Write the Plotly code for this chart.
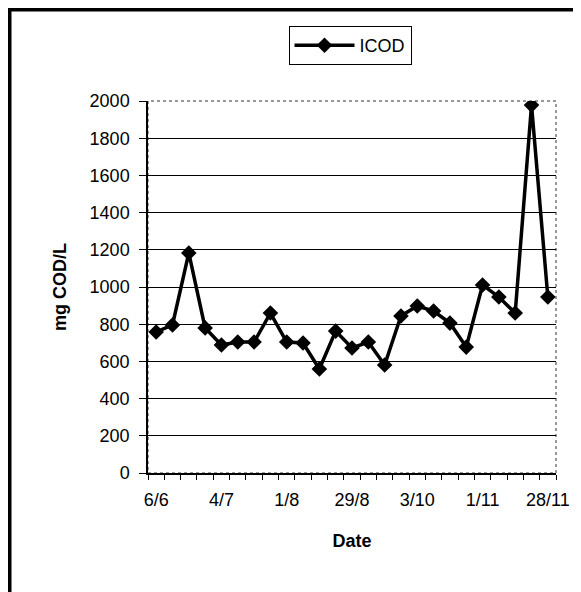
import plotly.graph_objects as go

# Data (weekly samples; labels every 4th sample)
sample_index = list(range(25))
icod = [758, 796, 1183, 780, 688, 704, 704, 860, 704, 699, 559, 763, 672,
        704, 581, 844, 898, 871, 806, 677, 1011, 946, 860, 1978, 946]
label_positions = [0, 4, 8, 12, 16, 20, 24]
label_text = ["6/6", "4/7", "1/8", "29/8", "3/10", "1/11", "28/11"]
y_ticks = [0, 200, 400, 600, 800, 1000, 1200, 1400, 1600, 1800, 2000]

# page body has an 8px margin, so the figure is drawn 8px right and down
OFF = 8
W, H = 581 - OFF, 592 - OFF
L, R, T, B = 148 - OFF, 556 - OFF, 101 - OFF, 473 - OFF
pw, ph = R - L, B - T

def px(x):
    return (x - OFF - L) / pw

def py(y):
    return (B - (y - OFF)) / ph

FONT = "Liberation Sans, Arial, sans-serif"

fig = go.Figure()
fig.add_trace(go.Scatter(
    x=sample_index, y=icod, mode="lines+markers", name="ICOD",
    line=dict(color="black", width=3.5),
    marker=dict(symbol="diamond", size=12, color="black"),
))

fig.update_layout(
    width=W, height=H,
    margin=dict(l=L, r=W - R, t=T, b=H - B),
    paper_bgcolor="white", plot_bgcolor="white",
    font=dict(family=FONT, size=18, color="black"),
    showlegend=True,
    legend=dict(
        x=px(350), y=py(26), xanchor="center", yanchor="top",
        bordercolor="black", borderwidth=1, bgcolor="white",
        font=dict(family=FONT, size=18, color="black"),
        itemwidth=60,
    ),
    xaxis=dict(
        range=[-0.5, 24.5],
        tickvals=label_positions, ticktext=label_text,
        ticks="", showgrid=False, zeroline=False,
        showline=True, linecolor="black", linewidth=1.5,
        tickfont=dict(family=FONT, size=18, color="black"),
        ticklabelstandoff=10,
        minor=dict(tick0=-0.5, dtick=1, ticks="outside", ticklen=5,
                   tickcolor="black", tickwidth=1, showgrid=False),
        title=dict(text="<b>Date</b>", font=dict(family=FONT, size=18, color="black"),
                   standoff=25),
    ),
    yaxis=dict(
        range=[0, 2000],
        tickvals=y_ticks,
        ticks="outside", ticklen=7, tickcolor="black", tickwidth=1,
        showgrid=True, gridcolor="black", gridwidth=1,
        zeroline=False,
        showline=True, linecolor="black", linewidth=1.5,
        tickfont=dict(family=FONT, size=18, color="black"),
        ticklabelstandoff=6,
        title=dict(text="<b>mg COD/L</b>", font=dict(family=FONT, size=18, color="black"),
                   standoff=18),
    ),
    shapes=[
        dict(type="rect", xref="paper", yref="paper",
             x0=0, x1=1, y0=0, y1=1,
             line=dict(color="#777777", width=1.5, dash="dot"), layer="below"),
        # outer chart frame (left and top edges visible)
        dict(type="rect", xref="paper", yref="paper",
             x0=px(OFF + 1.75), x1=px(640), y0=py(650), y1=py(OFF + 1.75),
             line=dict(color="black", width=3.5)),
    ],
)

fig.write_html("out.html")
